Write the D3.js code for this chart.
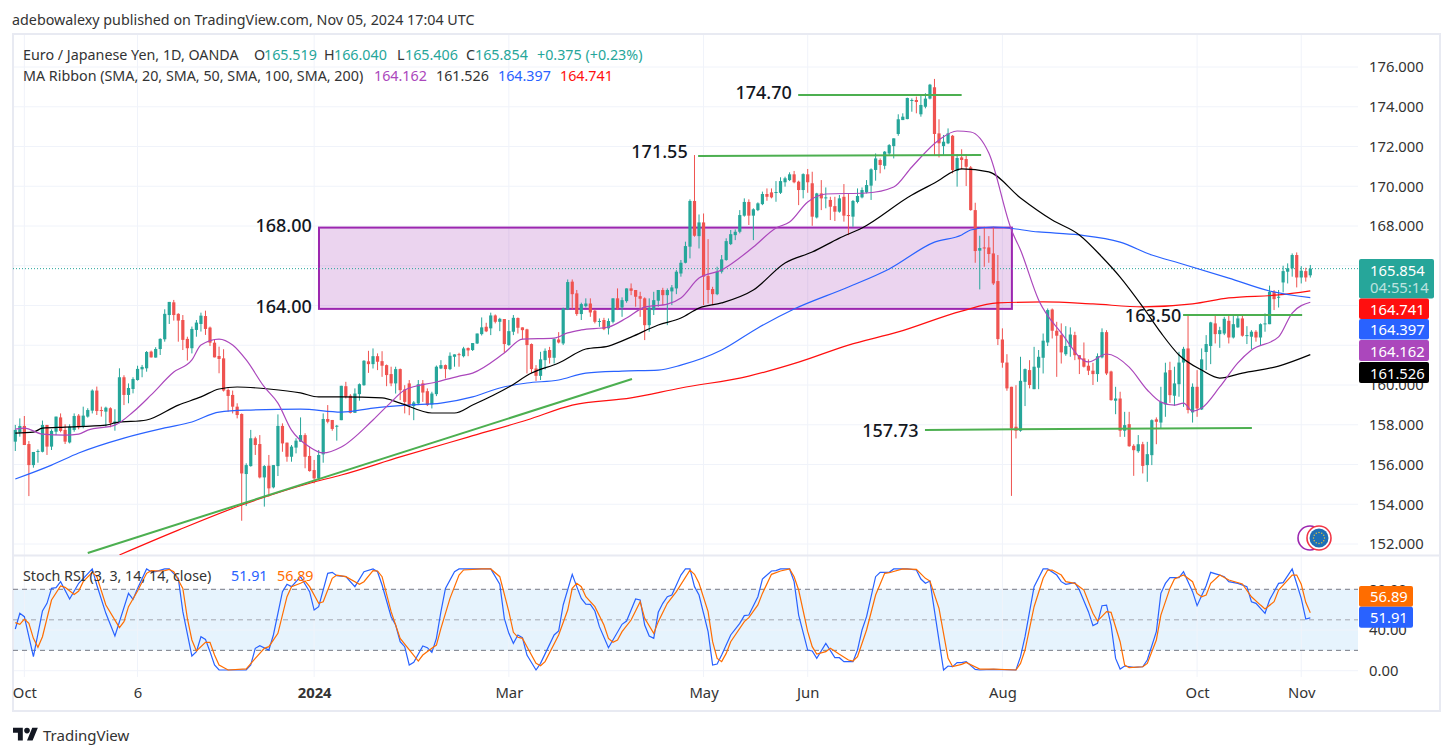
<!DOCTYPE html>
<html>
<head>
<meta charset="utf-8">
<script src="https://cdn.jsdelivr.net/npm/d3@7"></script>
<style>
  body { margin: 0; background: #fff; }
  text { font-family: "Noto Sans", sans-serif; }
</style>
</head>
<body>
<div id="chart"></div>
<script>
const opens = [157.15,157.62,157.94,157.03,155.97,156.64,156.64,157.99,156.90,157.65,
  158.37,157.74,157.11,157.74,158.46,157.90,158.41,158.71,159.72,158.74,
  158.66,158.83,158.07,158.12,160.39,159.50,159.80,160.25,160.79,160.84,
  161.68,161.38,161.81,162.30,163.52,164.16,163.58,163.27,162.32,161.85,
  162.77,163.07,163.47,162.89,162.13,161.46,161.34,159.75,159.50,158.91,
  158.54,155.52,155.92,157.32,157.03,155.35,155.94,154.85,155.92,157.94,
  157.10,156.39,156.85,157.15,157.48,156.43,155.72,155.30,156.51,158.29,
  158.24,157.92,158.23,159.94,159.46,158.60,159.54,159.99,161.19,161.05,
  161.45,161.20,161.00,160.55,160.08,160.80,159.78,160.08,158.94,159.07,
  160.08,159.69,159.02,159.54,160.83,161.00,160.80,161.42,161.55,161.45,
  161.86,161.76,162.09,162.56,162.93,162.85,163.50,163.18,163.32,162.01,
  162.68,163.37,162.90,162.80,162.06,160.83,160.46,161.25,161.76,161.37,
  162.29,162.09,163.80,165.20,164.61,163.57,163.97,164.10,163.74,163.17,
  163.27,162.85,163.18,164.36,163.90,164.22,164.86,164.78,164.47,164.36,
  163.01,163.77,164.24,164.78,164.52,164.71,164.86,165.61,166.15,166.96,
  169.26,167.49,168.18,165.48,164.83,164.57,165.70,166.29,167.09,167.54,
  167.71,168.52,169.21,168.52,168.80,169.10,169.61,169.69,169.67,169.67,
  170.20,170.31,170.60,170.23,169.81,170.60,170.15,168.43,169.64,169.41,
  169.31,169.00,168.72,169.47,168.55,168.47,169.21,169.44,169.69,170.03,
  170.82,171.32,171.03,171.65,172.02,172.63,173.33,173.38,174.29,174.34,
  173.62,174.00,174.41,174.98,172.66,172.02,172.16,172.54,170.77,171.45,
  171.37,170.95,168.80,166.76,166.92,166.92,166.62,165.23,162.29,161.13,
  159.91,157.90,157.70,160.16,160.75,159.79,160.87,161.37,162.14,163.80,
  162.73,162.51,161.55,161.92,162.51,161.50,161.34,160.97,160.72,160.55,
  161.39,162.66,160.68,159.21,159.32,157.70,158.03,156.94,156.67,157.02,
  155.97,156.47,158.27,158.11,159.02,160.75,159.46,160.04,161.13,161.84,
  158.62,159.91,158.77,161.66,161.96,163.10,162.56,162.59,163.23,162.39,
  162.90,163.35,162.48,162.43,162.68,162.39,163.06,163.06,164.69,164.39,
  165.16,165.70,165.87,166.54,165.41,165.73,165.519];

const highs = [157.99,158.32,158.44,157.18,156.63,156.76,158.21,157.99,157.77,158.41,
  158.57,158.02,158.02,158.57,158.54,158.91,158.83,159.78,159.92,158.91,
  158.91,158.88,158.78,160.84,160.49,160.08,160.39,160.97,161.01,161.71,
  161.73,161.90,162.35,163.81,164.18,164.28,163.61,163.52,162.43,162.94,
  163.27,163.64,163.74,162.94,162.27,161.93,161.80,159.83,159.72,159.08,
  158.57,156.06,157.74,157.40,157.48,155.97,156.48,155.97,158.52,158.07,
  157.10,156.98,157.32,158.37,157.57,156.90,156.23,156.73,158.57,158.99,
  158.24,157.99,159.96,160.16,159.54,159.83,160.08,161.25,161.72,161.84,
  161.59,161.70,161.03,160.92,160.92,160.83,159.99,160.25,159.19,160.25,
  160.25,159.83,159.66,160.98,161.25,161.03,161.64,161.54,161.62,161.92,
  161.89,162.11,162.59,163.40,163.13,163.64,163.55,163.38,163.32,163.27,
  163.52,163.40,162.90,162.83,162.09,161.00,161.67,161.84,161.92,162.34,
  162.66,163.89,165.31,165.31,164.78,164.14,164.36,164.36,163.80,163.35,
  163.38,163.35,164.36,164.86,164.41,164.86,165.11,164.78,164.69,164.41,
  164.36,164.69,164.78,164.89,164.86,165.03,165.78,166.29,167.21,169.34,
  171.57,168.58,168.63,167.34,164.94,165.95,166.54,167.38,167.80,167.83,
  168.80,169.39,169.34,168.89,169.19,169.73,169.89,169.89,170.26,170.45,
  170.48,170.70,170.77,170.28,170.65,170.87,170.73,169.67,170.31,169.94,
  169.47,169.47,169.56,170.11,169.64,169.31,169.89,169.94,170.31,170.90,
  171.65,171.40,171.77,172.12,172.41,173.62,173.67,174.46,174.42,174.51,
  174.54,174.68,175.15,175.40,173.37,172.58,172.91,172.58,171.62,171.86,
  171.62,171.02,169.17,167.51,167.96,167.49,167.96,166.54,162.85,161.55,
  159.91,159.99,161.42,160.83,161.25,161.92,161.76,162.59,163.85,163.85,
  163.18,163.10,162.96,162.90,162.68,161.50,162.14,161.29,161.12,161.59,
  162.85,162.76,160.72,159.91,159.66,158.65,158.65,157.02,157.48,157.14,
  157.14,158.27,158.37,159.91,161.12,161.17,160.92,161.67,161.92,163.48,
  160.08,160.75,161.84,162.51,163.18,163.55,162.93,163.43,163.52,163.52,
  163.57,163.48,162.96,162.76,162.76,163.10,163.60,165.00,164.78,164.78,
  166.00,166.12,166.62,166.67,165.98,165.90,166.04];

const lows = [156.68,157.40,156.98,154.41,155.84,156.09,156.61,156.48,156.73,157.48,
  157.62,157.03,157.06,157.65,157.77,157.82,158.36,158.57,158.49,158.41,
  157.90,157.87,157.70,158.07,158.99,159.08,159.58,160.22,160.39,160.67,
  161.38,161.38,161.51,162.18,163.07,163.24,162.18,161.76,161.23,161.59,
  162.43,162.69,162.52,161.96,161.39,160.59,159.67,158.66,158.57,158.32,
  153.17,153.91,155.89,156.48,155.30,153.88,154.38,154.80,155.42,156.64,
  156.14,156.14,156.56,157.15,155.81,155.64,155.05,155.25,156.09,158.07,
  157.70,157.20,158.23,159.32,158.57,158.60,159.21,159.96,160.61,160.83,
  160.75,160.41,159.94,159.94,159.57,159.24,158.57,158.48,158.23,158.99,
  159.15,158.94,158.82,159.44,160.80,160.33,160.75,160.92,160.92,161.39,
  161.45,161.71,162.06,162.49,162.66,162.51,163.10,162.71,161.62,161.97,
  162.51,162.59,162.29,160.58,160.58,160.20,160.25,160.78,161.08,161.08,
  162.09,162.01,163.77,163.80,163.48,163.27,163.90,163.43,163.10,162.93,
  162.76,162.54,163.10,163.77,163.43,164.14,164.52,163.94,163.43,162.26,
  162.68,163.52,163.94,164.02,163.01,164.02,164.57,165.45,166.12,166.37,
  167.46,166.87,164.02,164.10,164.02,164.52,165.61,166.25,167.04,167.29,
  167.63,168.47,168.05,167.29,168.75,169.05,169.27,169.39,169.22,169.61,
  169.98,170.26,170.15,169.05,169.39,169.67,168.01,168.38,168.80,168.89,
  168.30,168.25,168.67,168.22,167.54,167.96,169.14,169.39,169.64,169.31,
  170.28,170.65,170.85,171.57,171.40,172.54,173.33,173.37,173.75,173.67,
  173.50,173.92,174.37,171.52,171.45,171.54,172.12,170.65,169.98,170.85,
  170.01,168.77,166.15,164.81,165.95,166.15,165.03,162.01,160.87,159.71,
  154.42,157.31,157.65,158.94,159.83,159.79,159.79,160.58,161.96,162.34,
  160.41,161.08,161.47,161.42,161.25,160.55,160.88,160.50,160.00,160.16,
  161.34,160.50,159.21,158.53,157.39,157.39,156.89,155.43,156.59,155.55,
  155.13,155.97,157.02,157.81,158.40,159.10,158.95,159.41,158.90,158.57,
  158.11,158.40,158.74,160.75,161.05,162.09,161.87,162.51,162.09,162.34,
  162.88,162.43,162.06,161.81,162.18,161.97,162.68,163.06,163.77,163.90,
  164.66,165.11,165.45,164.91,165.11,165.20,165.406];

const closes = [157.74,157.94,156.98,155.97,156.63,156.68,157.99,156.90,157.69,158.41,
  157.69,157.15,157.90,158.44,157.87,158.46,158.74,159.72,158.69,158.69,
  158.86,158.10,158.17,160.39,159.50,159.85,160.30,160.81,160.91,161.66,
  161.39,161.81,162.32,163.58,164.18,163.52,163.24,162.27,161.85,162.82,
  163.14,163.49,162.82,162.13,161.39,161.31,159.72,159.45,158.91,158.49,
  155.55,155.97,157.32,156.98,155.35,155.92,154.80,155.97,157.94,157.06,
  156.39,156.90,157.20,157.48,156.39,155.67,155.30,156.48,158.29,158.15,
  157.79,157.95,159.96,159.41,158.60,159.57,160.04,161.22,161.05,161.45,
  161.17,160.97,160.50,160.08,160.80,159.74,159.15,158.99,159.12,160.04,
  159.62,158.99,159.57,160.92,161.00,160.80,161.47,161.54,161.50,161.84,
  161.74,162.11,162.59,162.90,162.70,163.50,163.18,163.33,162.06,162.71,
  163.38,162.88,162.76,162.01,160.80,160.46,161.29,161.72,161.37,162.31,
  162.14,163.85,165.18,164.57,163.57,164.07,164.10,163.65,163.18,163.22,
  162.81,163.22,164.36,163.85,164.27,164.86,164.74,164.44,164.34,163.01,
  163.89,164.27,164.78,164.52,164.78,164.91,165.70,166.15,166.99,169.26,
  167.51,168.18,165.45,164.78,164.57,165.70,166.32,167.24,167.59,167.71,
  168.55,169.21,168.52,168.84,169.14,169.61,169.47,169.44,169.71,170.26,
  170.40,170.60,170.20,169.81,170.61,170.20,168.47,169.64,169.39,169.44,
  168.97,168.72,169.39,168.52,168.50,169.26,169.51,169.81,170.06,170.85,
  171.40,171.07,171.74,172.07,172.41,173.37,173.50,174.44,174.34,174.24,
  174.09,174.41,175.11,172.63,172.16,172.24,172.66,170.82,171.42,171.32,
  170.98,168.80,166.74,166.89,166.87,166.59,165.11,162.31,161.12,159.83,
  157.81,157.70,160.21,160.80,160.00,160.92,161.42,162.23,163.77,162.73,
  162.48,161.64,161.96,162.54,161.50,161.29,160.92,160.72,160.55,161.45,
  162.66,160.58,159.24,159.32,157.70,157.98,156.92,156.72,157.02,155.93,
  156.52,158.23,158.15,159.15,160.63,159.49,160.08,161.13,161.82,158.74,
  159.91,158.82,161.29,162.06,163.15,162.56,162.76,163.33,162.39,163.06,
  163.35,162.48,162.51,162.68,162.39,163.06,163.10,164.69,164.32,164.44,
  165.73,165.87,166.54,165.41,165.75,165.41,165.854];

const sma20 = [[0,157.78],[2,157.83],[6,157.53],[11,157.48],[14,157.53],[16,157.73],[22,157.98],[26,158.64],[30,159.50],[35,160.65],[39,161.26],[41,162.01],[45,162.31],[48,162.01],[51,161.26],[55,159.90],[58,159.09],[61,157.73],[65,156.88],[68,156.58],[72,156.88],[79,158.24],[83,159.14],[86,159.75],[93,160.15],[98,160.45],[101,160.60],[108,161.61],[112,162.31],[119,162.36],[122,162.62],[125,162.77],[131,162.92],[135,163.37],[139,163.92],[144,164.07],[147,164.38],[151,165.38],[156,165.79],[163,166.94],[168,167.90],[171,168.20],[175,169.21],[179,169.61],[188,169.66],[194,169.96],[198,170.97],[204,172.33],[208,172.78],[211,172.73],[215,171.67],[220,167.80],[222,166.79],[226,164.28],[231,162.62],[237,161.16],[241,161.56],[246,160.90],[250,159.75],[253,159.14],[256,158.99],[258,159.09],[260,158.69],[262,158.84],[266,159.90],[270,161.11],[273,161.76],[279,162.42],[282,163.62],[286,164.162]];
const sma50 = [[0,157.58],[4,157.63],[6,157.83],[11,157.88],[20,157.98],[22,158.09],[29,158.24],[36,158.99],[41,159.40],[45,159.80],[49,159.90],[56,159.80],[63,159.60],[67,159.40],[72,159.40],[81,159.35],[85,159.09],[92,158.59],[97,158.59],[101,158.99],[109,159.90],[114,160.60],[120,161.11],[126,161.81],[131,161.96],[136,162.41],[142,163.02],[147,163.37],[151,163.87],[156,164.13],[163,164.78],[170,166.14],[176,166.69],[182,167.39],[187,167.90],[198,169.56],[203,170.16],[209,170.87],[215,170.72],[222,169.41],[229,168.30],[235,167.55],[240,166.44],[244,165.43],[249,163.93],[253,162.63],[257,161.51],[262,160.75],[266,160.35],[271,160.60],[279,160.95],[286,161.526]];
const sma100 = [[0,155.27],[8,155.97],[14,156.58],[24,157.33],[33,157.84],[39,158.14],[45,158.64],[52,158.74],[63,158.79],[72,158.64],[79,158.84],[87,158.99],[94,159.09],[101,159.40],[107,159.85],[113,160.10],[120,160.25],[126,160.60],[134,160.70],[142,160.75],[147,161.00],[156,161.76],[164,162.87],[172,163.82],[184,164.93],[193,165.84],[203,167.19],[209,167.55],[211,167.80],[216,167.95],[226,167.70],[235,167.55],[244,167.19],[251,166.54],[257,166.14],[268,165.38],[277,164.73],[286,164.397]];
const sma200 = [[23,151.45],[36,152.70],[50,153.96],[66,155.12],[72,155.47],[85,156.38],[100,157.38],[113,158.24],[123,158.99],[136,159.35],[147,159.85],[162,160.45],[173,161.15],[184,162.01],[195,162.67],[209,163.72],[217,164.13],[227,164.18],[238,164.08],[249,163.93],[260,164.08],[268,164.38],[279,164.53],[286,164.741]];

// stochastic RSI, same form
const stochK = [[0,41.0],[1,56.4],[2,53.1],[4,13.8],[6,58.7],[7,66.2],[8,80.9],[9,81.6],[10,87.5],[12,70.5],[14,85.9],[17,100],[18,84.2],[20,56.4],[22,34.1],[25,76.0],[26,70.1],[27,80.9],[29,100],[30,97.3],[31,97.3],[33,100],[34,100],[36,90.8],[37,58],[39,14.4],[40,18.7],[41,33.4],[42,30.8],[43,18.7],[44,5.6],[45,0.7],[51,0.7],[52,5.6],[53,22],[54,24.6],[56,20.3],[57,35.1],[59,77.7],[60,84.9],[61,82.6],[63,92.4],[65,77.7],[66,59.6],[67,62.9],[69,95.7],[70,96.7],[71,93.4],[73,92.4],[75,82.6],[77,97.3],[79,100],[80,97.3],[81,84.2],[83,53.1],[84,44.9],[85,28.5],[86,23.6],[87,5.6],[88,8.2],[90,24.3],[91,22.6],[92,18],[93,31.8],[94,58],[95,80.9],[97,97.3],[98,100],[103,100],[105,100],[107,84.9],[108,51.5],[109,36.7],[110,26.9],[111,35.1],[112,32.5],[113,15.4],[115,0.7],[116,7.2],[119,35.1],[120,39],[121,64.6],[123,94.7],[124,82.6],[125,71.1],[126,65.5],[127,65.2],[128,58.7],[129,43.3],[131,22.6],[134,45.6],[135,48.8],[137,70.5],[138,69.5],[139,44.9],[140,34.1],[141,31.8],[142,57.4],[143,66.2],[144,72.7],[145,74.4],[147,94],[148,100],[149,100],[150,82.6],[151,74.4],[153,38.4],[154,5.6],[155,6.6],[156,15.4],[158,35.1],[160,46.5],[161,54.1],[162,54.7],[164,72.7],[165,90.1],[167,98],[168,98.3],[169,100],[171,100],[172,87.5],[173,54.7],[175,20.3],[176,19.4],[177,12.1],[179,26.9],[181,12.8],[182,12.8],[183,8.9],[185,8.9],[186,20.3],[187,40],[188,53.1],[190,92.4],[191,96.7],[193,96.7],[194,100],[197,100],[199,99],[200,90.1],[201,85.9],[202,88.1],[205,0.7],[206,4.6],[207,4],[208,7.9],[209,7.9],[210,8.9],[212,1.3],[213,0.7],[216,1.3],[221,0.7],[222,13.8],[223,33.4],[224,58],[225,82.6],[227,100],[228,100],[230,94],[231,87.5],[232,84.9],[234,86.5],[235,79.3],[237,58],[238,44.3],[239,46.5],[240,63.9],[241,64.5],[242,44.9],[243,12.1],[244,1.6],[245,4.6],[247,3.3],[249,3.9],[250,10.5],[252,38.3],[253,76],[254,85.8],[255,91.4],[257,91.4],[258,97.3],[260,77.7],[261,63.9],[263,83.5],[264,96.7],[266,94],[267,92.4],[268,87.5],[270,85.8],[272,82.6],[273,67.8],[274,66.2],[276,56.4],[277,69.5],[279,85.8],[280,86.5],[282,100],[284,71.1],[285,50.8],[286,51.91]];
const stochD = [[0,47.2],[1,45.6],[2,50.8],[3,46.5],[4,31.8],[5,23],[6,33.4],[8,69.5],[10,83.2],[11,81.9],[13,75],[14,78.3],[15,87.5],[17,96.7],[18,92.4],[20,64.6],[23,42.3],[24,48.2],[25,62.9],[27,78.3],[29,95.7],[30,98.3],[32,98],[33,98.3],[34,99.6],[35,97.3],[37,80.9],[38,51.5],[39,30.2],[40,19.4],[42,27.9],[43,27.9],[44,15.4],[45,5.6],[47,0.7],[51,1.7],[53,12.1],[55,22],[56,23.6],[58,36.7],[60,72.7],[61,82.6],[63,85.9],[64,88.1],[65,82.6],[67,66.2],[68,67.8],[70,90.8],[71,94],[73,92.4],[76,84.9],[77,87.5],[79,98.3],[80,98],[81,92.4],[83,58],[85,31.8],[89,9.5],[90,15.4],[92,22],[93,25.2],[94,41.6],[96,71.1],[98,94],[99,99],[103,100],[105,100],[107,92.4],[109,58],[110,37.7],[111,32.8],[112,31.8],[113,23.6],[115,7.2],[116,4.9],[117,8.9],[120,35.1],[122,59.6],[123,80.9],[124,85.9],[125,82.6],[126,72.7],[128,62.9],[130,44.9],[131,31.8],[132,27.9],[133,30.2],[134,38.4],[136,49.8],[138,67.8],[139,51.5],[141,36.7],[142,48.2],[144,66.2],[146,77.7],[149,98.9],[150,94.7],[151,85.9],[153,58],[154,28.5],[155,12.1],[156,8.9],[157,17],[158,28.5],[161,48.2],[162,52.1],[164,64.6],[165,76],[167,94.7],[169,98],[171,100],[172,92.4],[173,79.3],[175,38.4],[176,23.6],[177,16.4],[179,18.7],[180,22],[182,16.1],[184,10.5],[185,9.5],[186,13.8],[188,40],[190,74.4],[192,95.7],[193,96.3],[196,100],[199,99.6],[201,90.8],[202,88.1],[204,61.3],[206,12.1],[207,4],[209,6.2],[210,8.2],[213,1.6],[216,1.6],[221,0.7],[222,7.2],[223,20.3],[225,62.9],[227,90.8],[228,98.9],[229,98.9],[231,94],[232,87.5],[234,85.8],[236,79.3],[238,56.4],[239,48.8],[241,58],[242,57.3],[244,28.5],[245,5.6],[246,3],[249,3.9],[250,7.2],[252,30.2],[253,54.7],[255,80.9],[256,90.1],[258,94],[260,87.5],[261,76],[262,72.7],[263,74.4],[264,85.8],[266,94],[268,89.1],[271,85.2],[273,72.7],[275,64.5],[276,60.6],[278,67.8],[279,79.3],[282,94],[283,94],[284,84.9],[285,67.2],[286,56.89]];

const priceTicks = [152,154,156,158,160,162,164,166,168,170,172,174,176];
// 162, 164 and 166 sit behind the value boxes, so they only get a grid line
const priceLabelTicks = [152,154,156,158,160,168,170,172,174,176];
const stochTicks = [0,40,80];
const timeBars = [2,27,66,109,152,175,218,261,284];
const timeLabels = ["Oct","6","2024","Mar","May","Jun","Aug","Oct","Nov"];

// hand drawn levels on the chart: [bar, price, bar, price]
const greenLines = [[172.9,174.59,209,174.59],[150.8,171.52,213.3,171.57],[257.9,163.52,284.2,163.52],[200.9,157.74,273.1,157.84],[16,151.55,136.2,160.30]];
const zoneBars = [67.07,220.1];
const zonePrices = [163.83,167.92];
const levelLabels = ["174.70","171.55","168.00","164.00","157.73","163.50"];
const levelBars = [171.5,148.5,65.5,65.5,199.5,257.5];
const levelPrices = [174.70,171.70,168.00,163.90,157.70,163.45];

const lastPrice = 165.854;
const countdown = "04:55:14";
const maValues = [164.162,161.526,164.397,164.741];
const stochValues = [51.91,56.89];

const w = 1453, h = 756;
const chartLeft = 13, chartRight = 1358;
const axisX = 1369;

const green = "#26a69a", red = "#ef5350", ink = "#131722";
const purple = "#ab47bc", blue = "#2962ff", maRed = "#ff0f0f", orange = "#ff6d00";

const svg = d3.select("#chart").append("svg").attr("width", w).attr("height", h);

const xScale = d3.scaleLinear().domain([0, opens.length - 1]).range([15.3, 1310.3]);
const yScale = d3.scaleLinear().domain([152, 176]).range([544, 67]);
const yStoch = d3.scaleLinear().domain([0, 100]).range([670.7, 568.95]);

svg.append("defs").append("clipPath").attr("id", "mainClip").append("rect")
    .attr("x", chartLeft).attr("y", 35).attr("width", chartRight - chartLeft).attr("height", 520);
svg.select("defs").append("clipPath").attr("id", "stochClip").append("rect")
    .attr("x", chartLeft).attr("y", 556).attr("width", chartRight - chartLeft).attr("height", 122);

// grid
const grid = svg.append("g").attr("stroke", "#f0f3fa").attr("stroke-width", 1);
grid.selectAll("line.v").data(timeBars).enter().append("line")
    .attr("x1", d => xScale(d)).attr("x2", d => xScale(d)).attr("y1", 35).attr("y2", 677);
grid.selectAll("line.p").data(priceTicks).enter().append("line")
    .attr("x1", chartLeft).attr("x2", chartRight).attr("y1", d => yScale(d)).attr("y2", d => yScale(d));

// stoch band, below the frame lines
svg.append("rect").attr("x", chartLeft).attr("width", chartRight - chartLeft)
    .attr("y", yStoch(80)).attr("height", yStoch(20) - yStoch(80)).attr("fill", "#e3f2fd").attr("opacity", 0.9);
grid.raise();
grid.selectAll("line.s").data(stochTicks).enter().append("line")
    .attr("x1", chartLeft).attr("x2", chartRight).attr("y1", d => yStoch(d)).attr("y2", d => yStoch(d));

// frame
const frame = svg.append("g").attr("stroke", "#e8eaf2").attr("stroke-width", 2).attr("fill", "none");
frame.append("rect").attr("x", 13).attr("y", 34).attr("width", 1427).attr("height", 677);
frame.append("line").attr("x1", 13).attr("x2", 1440).attr("y1", 555.5).attr("y2", 555.5);

// purple zone
svg.append("rect")
    .attr("x", xScale(zoneBars[0])).attr("width", xScale(zoneBars[1]) - xScale(zoneBars[0]))
    .attr("y", yScale(zonePrices[1])).attr("height", yScale(zonePrices[0]) - yScale(zonePrices[1]))
    .attr("fill", "#9c27b0").attr("fill-opacity", 0.2)
    .attr("stroke", "#9c27b0").attr("stroke-width", 2);

// last price line
svg.append("line").attr("x1", chartLeft).attr("x2", chartRight)
    .attr("y1", yScale(lastPrice)).attr("y2", yScale(lastPrice))
    .attr("stroke", green).attr("stroke-dasharray", "1 2");

// candles
const bars = d3.range(opens.length);
const candles = svg.append("g").attr("clip-path", "url(#mainClip)");
candles.selectAll("line").data(bars).enter().append("line")
    .attr("x1", i => xScale(i)).attr("x2", i => xScale(i))
    .attr("y1", i => yScale(highs[i])).attr("y2", i => yScale(lows[i]))
    .attr("stroke", i => closes[i] >= opens[i] ? green : red).attr("stroke-width", 1);
candles.selectAll("rect").data(bars).enter().append("rect")
    .attr("x", i => xScale(i) - 1.6).attr("width", 3.2)
    .attr("y", i => yScale(Math.max(opens[i], closes[i])))
    .attr("height", i => Math.max(1, Math.abs(yScale(opens[i]) - yScale(closes[i]))))
    .attr("fill", i => closes[i] >= opens[i] ? green : red);

// moving averages
const maLine = d3.line().x(d => xScale(d[0])).y(d => yScale(d[1])).curve(d3.curveMonotoneX);
const maGroup = svg.append("g").attr("clip-path", "url(#mainClip)").attr("fill", "none").attr("stroke-width", 1.2);
maGroup.append("path").attr("d", maLine(sma200)).attr("stroke", maRed);
maGroup.append("path").attr("d", maLine(sma100)).attr("stroke", blue);
maGroup.append("path").attr("d", maLine(sma50)).attr("stroke", "#000");
maGroup.append("path").attr("d", maLine(sma20)).attr("stroke", purple);

// green drawings
svg.append("g").attr("clip-path", "url(#mainClip)").selectAll("line").data(greenLines).enter().append("line")
    .attr("x1", d => xScale(d[0])).attr("y1", d => yScale(d[1]))
    .attr("x2", d => xScale(d[2])).attr("y2", d => yScale(d[3]))
    .attr("stroke", "#4caf50").attr("stroke-width", 2);

svg.append("g").selectAll("text").data(levelLabels).enter().append("text")
    .attr("x", (d, i) => xScale(levelBars[i])).attr("y", (d, i) => yScale(levelPrices[i]))
    .attr("text-anchor", "end").attr("dominant-baseline", "central").attr("dy", -1)
    .attr("font-size", 18).attr("font-weight", 500).attr("fill", ink).text(d => d);

// stoch pane
svg.append("g").selectAll("line").data([80, 50, 20]).enter().append("line")
    .attr("x1", chartLeft).attr("x2", chartRight).attr("y1", d => yStoch(d)).attr("y2", d => yStoch(d))
    .attr("stroke", d => d == 50 ? "#a3a6af" : "#787b86").attr("stroke-dasharray", "5 4");
const stochLine = d3.line().x(d => xScale(d[0])).y(d => yStoch(d[1]));
const stochGroup = svg.append("g").attr("clip-path", "url(#stochClip)").attr("fill", "none").attr("stroke-width", 1.2);
stochGroup.append("path").attr("d", stochLine(stochK)).attr("stroke", blue);
stochGroup.append("path").attr("d", stochLine(stochD)).attr("stroke", orange);

// axes
function styleAxis(g) {
    g.select(".domain").remove();
    g.selectAll(".tick line").remove();
    g.selectAll("text").attr("fill", "#333").attr("font-size", 14.8).attr("font-family", '"Noto Sans", sans-serif');
}
svg.append("g").attr("transform", `translate(${axisX},0)`)
    .call(d3.axisRight(yScale).tickValues(priceLabelTicks).tickFormat(d3.format(".3f")).tickSize(0).tickPadding(0))
    .call(styleAxis);
svg.append("g").attr("transform", `translate(${axisX},0)`)
    .call(d3.axisRight(yStoch).tickValues(stochTicks).tickFormat(d3.format(".2f")).tickSize(0).tickPadding(0))
    .call(styleAxis);
svg.append("g").attr("transform", "translate(0,687)")
    .call(d3.axisBottom(xScale).tickValues(timeBars).tickFormat((d, i) => timeLabels[i]).tickSize(0).tickPadding(0))
    .call(styleAxis)
    .selectAll("text").attr("font-weight", (d, i) => timeLabels[i] == "2024" ? 700 : 400);

// value boxes on the right
function priceBox(top, height, width, fill, label) {
    svg.append("rect").attr("x", 1359).attr("y", top).attr("width", width).attr("height", height)
        .attr("rx", 2).attr("fill", fill);
    if (label) {
        svg.append("text").attr("x", axisX + 1).attr("y", top + height / 2).attr("dominant-baseline", "central")
            .attr("font-size", 14.8).attr("fill", "#fff").text(label);
    }
}
priceBox(259, 39.5, 75, green, "");
svg.append("text").attr("x", axisX + 1).attr("y", 269.5).attr("dominant-baseline", "central")
    .attr("font-size", 14.8).attr("fill", "#fff").text(lastPrice.toFixed(3));
svg.append("text").attr("x", axisX + 1).attr("y", 287).attr("dominant-baseline", "central")
    .attr("font-size", 14.8).attr("fill", "#fff").attr("fill-opacity", 0.7).text(countdown);
priceBox(298.5, 20.5, 70, maRed, maValues[3].toFixed(3));
priceBox(319, 20.5, 70, blue, maValues[2].toFixed(3));
priceBox(340, 21, 70, purple, maValues[0].toFixed(3));
priceBox(362, 21, 70, "#000", maValues[1].toFixed(3));
priceBox(586, 20.7, 54, orange, stochValues[1].toFixed(2));
priceBox(606.7, 21, 54, blue, stochValues[0].toFixed(2));

// legend text
function legend(y, parts) {
    parts.forEach(p => {
        svg.append("text").attr("x", p[0]).attr("y", y).attr("dominant-baseline", "central")
            .attr("font-size", p[3] || 14.3).attr("fill", p[2]).text(p[1]);
    });
}
const greyInk = "#333";
legend(19, [[12, "adebowalexy published on TradingView.com, Nov 05, 2024 17:04 UTC", greyInk]]);
legend(54, [[23, "Euro / Japanese Yen, 1D, OANDA", greyInk], [254, "O", greyInk], [264, "165.519", green],
    [324, "H", greyInk], [334, "166.040", green], [397, "L", greyInk], [405, "165.406", green],
    [466, "C", greyInk], [475, "165.854", green], [537, "+0.375 (+0.23%)", green]]);
legend(75, [[23, "MA Ribbon (SMA, 20, SMA, 50, SMA, 100, SMA, 200)", greyInk], [374, maValues[0].toFixed(3), purple],
    [436, maValues[1].toFixed(3), greyInk], [498, maValues[2].toFixed(3), blue], [560, maValues[3].toFixed(3), maRed]]);
legend(575, [[23, "Stoch RSI (3, 3, 14, 14, close)", greyInk], [231, stochValues[0].toFixed(2), blue], [277, stochValues[1].toFixed(2), orange]]);

// currency badge
svg.append("circle").attr("cx", 1310).attr("cy", 538).attr("r", 12).attr("fill", "#fff").attr("stroke", "#9c27b0").attr("stroke-width", 1.6);
svg.append("circle").attr("cx", 1319).attr("cy", 538).attr("r", 12).attr("fill", "#fff").attr("stroke", "#f23645").attr("stroke-width", 1.6);
svg.append("circle").attr("cx", 1319).attr("cy", 538).attr("r", 9.5).attr("fill", "#1e6fb5");
svg.append("g").selectAll("circle").data(d3.range(12)).enter().append("circle")
    .attr("cx", d => 1319 + 5.5 * Math.cos(d * Math.PI / 6)).attr("cy", d => 538 + 5.5 * Math.sin(d * Math.PI / 6))
    .attr("r", 0.7).attr("fill", "#e8c53a");

// footer logo
svg.append("path").attr("transform", "translate(13,725) scale(0.7)")
    .attr("d", "M14 22H7V11H0V4h14v18zM28 22h-8l7.5-18h8L28 22z").attr("fill", ink);
svg.append("circle").attr("cx", 13 + 20 * 0.7).attr("cy", 725 + 8 * 0.7).attr("r", 2.8).attr("fill", ink);
svg.append("text").attr("x", 43).attr("y", 735).attr("dominant-baseline", "central")
    .attr("font-size", 15).attr("fill", "#333").text("TradingView");
</script>
</body>
</html>
